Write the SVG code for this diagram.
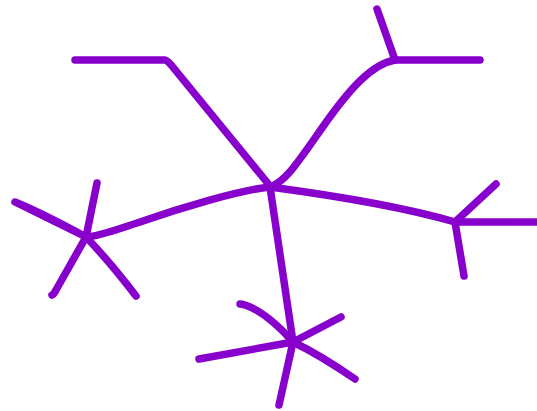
<svg xmlns="http://www.w3.org/2000/svg" width="537" height="411" viewBox="0 0 537 411">
<style>
.l{fill:none;stroke:#8800cc;stroke-width:7.5;stroke-linecap:round;stroke-linejoin:round}
</style>
<rect width="537" height="411" fill="#fff"/>
<g id="connectors">
<path class="l" d="M75,60 L165,60 Q168,61 172,66 L270,186"/>
<path class="l" d="M270,187 C285,182 296,165 322,128 C350,88 372,64 395,60"/>
<path class="l" d="M395,60 L377,9"/>
<path class="l" d="M395,60 L480,60"/>
<path class="l" d="M270,187 C330,195 400,206 455,222"/>
<path class="l" d="M455,222 L496,184"/>
<path class="l" d="M455,222 L540,222"/>
<path class="l" d="M455,222 L464,276"/>
<path class="l" d="M270,187 C240,190 180,208 140,222 C115,230 100,236 86,237"/>
<path class="l" d="M86,237 L15,202 Q40,212 86,237"/>
<path class="l" d="M86,237 L97,183"/>
<path class="l" d="M86,237 L56,290 Q54,294 52,295"/>
<path class="l" d="M86,237 Q110,262 136,296"/>
<path class="l" d="M270,187 L293,342"/>
<path class="l" d="M293,342 L279,405"/>
<path class="l" d="M293,342 C278,325 260,310 245,305 Q242,304 240,304"/>
<path class="l" d="M293,342 L341,317"/>
<path class="l" d="M293,342 Q320,355 355,379"/>
<path class="l" d="M293,342 L199,359"/>
</g>
</svg>
